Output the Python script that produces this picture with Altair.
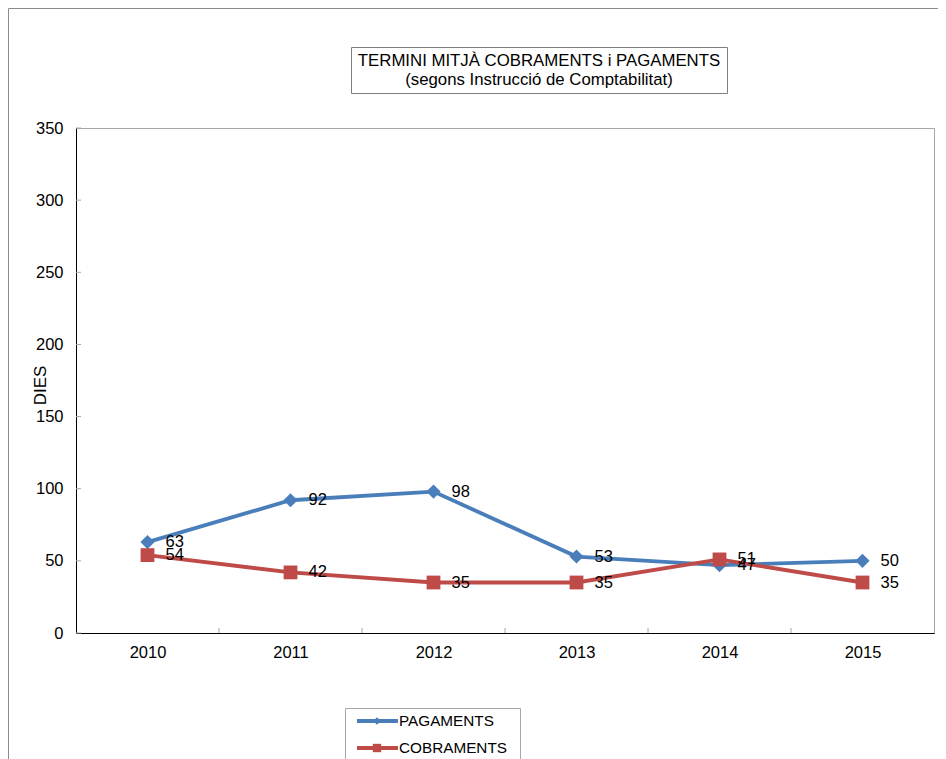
import altair as alt
import pandas as pd

years = [2010, 2011, 2012, 2013, 2014, 2015]
pagaments = [63, 92, 98, 53, 47, 50]
cobraments = [54, 42, 35, 35, 51, 35]
series_names = ["PAGAMENTS", "COBRAMENTS"]
series_colors = ["#4A7EBB", "#BE4B48"]
series_shapes = ["diamond", "square"]
y_ticks = [0, 50, 100, 150, 200, 250, 300, 350]
x_boundaries = [2010.5, 2011.5, 2012.5, 2013.5, 2014.5]
title_lines = ["TERMINI MITJÀ COBRAMENTS i PAGAMENTS", "(segons Instrucció de Comptabilitat)"]
y_title = "DIES"

FONT = "Liberation Sans"
W, H = 858, 505
PAD = {"left": 68, "top": 120, "right": 4, "bottom": 126}

xscale = alt.Scale(domain=[2009.5, 2015.5], nice=False, zero=False)
yscale = alt.Scale(domain=[0, 350], nice=False)

x_axis = alt.Axis(values=years, format="d", title=None, ticks=False, grid=False,
                  labelFontSize=16.5, labelPadding=11, domainColor="black",
                  labelColor="black", labelFont=FONT)
y_axis = alt.Axis(values=y_ticks, title=y_title, ticks=False, grid=False,
                  labelFontSize=16.5, labelPadding=13, domainColor="black",
                  labelColor="black", labelFont=FONT,
                  titleFont=FONT, titleFontSize=17, titleFontWeight="normal",
                  titleColor="black", titleX=-36, titleY=257, titleAngle=270,
                  titleAlign="center", titleBaseline="middle")


def X(field):
    return alt.X(field, scale=xscale, axis=x_axis)


def Y(field):
    return alt.Y(field, scale=yscale, axis=y_axis)


one = pd.DataFrame({"a": [0]})
layers = []

# inward tick marks
layers.append(
    alt.Chart(pd.DataFrame({"v": y_ticks})).mark_rule(color="#a6a6a6", strokeWidth=1).encode(
        y=Y("v:Q"), x=alt.value(0), x2=alt.value(5))
)
layers.append(
    alt.Chart(pd.DataFrame({"b": x_boundaries})).mark_rule(color="#a6a6a6", strokeWidth=1).encode(
        x=X("b:Q"), y=alt.value(H), y2=alt.value(H - 5))
)

for name, vals, col, shp in zip(series_names, [pagaments, cobraments], series_colors, series_shapes):
    d = pd.DataFrame({"year": years, "value": vals})
    base = alt.Chart(d).encode(x=X("year:Q"), y=Y("value:Q"))
    layers.append(base.mark_line(color=col, strokeWidth=3.8))
    layers.append(base.mark_point(filled=True, opacity=1, color=col, shape=shp,
                                  size=200 if shp == "diamond" else 190))

for name, vals in zip(series_names, [pagaments, cobraments]):
    d = pd.DataFrame({"year": years, "value": vals})
    layers.append(
        alt.Chart(d).mark_text(align="left", baseline="middle", dx=18, fontSize=16.5,
                               font=FONT, color="black").encode(
            x=X("year:Q"), y=Y("value:Q"), text=alt.Text("value:Q"))
    )

# title box
layers.append(alt.Chart(one).mark_rect(fill="white", stroke="#7f7f7f", strokeWidth=1).encode(
    x=alt.value(275.5), x2=alt.value(651.5), y=alt.value(-80.5), y2=alt.value(-34.5)))
layers.append(alt.Chart(one).mark_text(fontSize=16.8, font=FONT, color="black",
                                       align="center", baseline="middle").encode(
    text=alt.value(title_lines[0]), x=alt.value(463), y=alt.value(-67)))
layers.append(alt.Chart(one).mark_text(fontSize=16.8, font=FONT, color="black",
                                       align="center", baseline="middle").encode(
    text=alt.value(title_lines[1]), x=alt.value(463), y=alt.value(-48)))

# outer chart border (top and left)
bottom_edge = H + PAD["bottom"]
layers.append(alt.Chart(one).mark_rule(color="#8c8c8c", strokeWidth=1).encode(
    x=alt.value(-67.5), x2=alt.value(W + PAD["right"]), y=alt.value(-119.5)))
layers.append(alt.Chart(one).mark_rule(color="#8c8c8c", strokeWidth=1).encode(
    x=alt.value(-67.5), y=alt.value(-119.5), y2=alt.value(bottom_edge)))

# legend box
layers.append(alt.Chart(one).mark_rule(color="#a6a6a6", strokeWidth=1).encode(
    x=alt.value(269.5), x2=alt.value(444.5), y=alt.value(580.5)))
layers.append(alt.Chart(one).mark_rule(color="#a6a6a6", strokeWidth=1).encode(
    x=alt.value(269.5), y=alt.value(580.5), y2=alt.value(bottom_edge)))
layers.append(alt.Chart(one).mark_rule(color="#a6a6a6", strokeWidth=1).encode(
    x=alt.value(444.5), y=alt.value(580.5), y2=alt.value(bottom_edge)))

legend_rows_y = [593, 620]
for name, col, shp, ly in zip(series_names, series_colors, series_shapes, legend_rows_y):
    layers.append(alt.Chart(one).mark_rule(color=col, strokeWidth=3.8).encode(
        x=alt.value(281), x2=alt.value(322), y=alt.value(ly)))
    layers.append(alt.Chart(one).mark_point(filled=True, opacity=1, color=col, shape=shp,
                                            size=60 if shp == "diamond" else 70).encode(
        x=alt.value(301), y=alt.value(ly)))
    layers.append(alt.Chart(one).mark_text(align="left", baseline="middle", fontSize=15.3,
                                           font=FONT, color="black").encode(
        text=alt.value(name), x=alt.value(323), y=alt.value(ly)))

chart = alt.layer(*layers).properties(
    width=W, height=H, padding=PAD, autosize=alt.AutoSizeParams(type="none"),
    background="white",
).configure_view(stroke="#a6a6a6", strokeWidth=1)

chart.save("out.html", embed_options={"renderer": "svg", "actions": False})
